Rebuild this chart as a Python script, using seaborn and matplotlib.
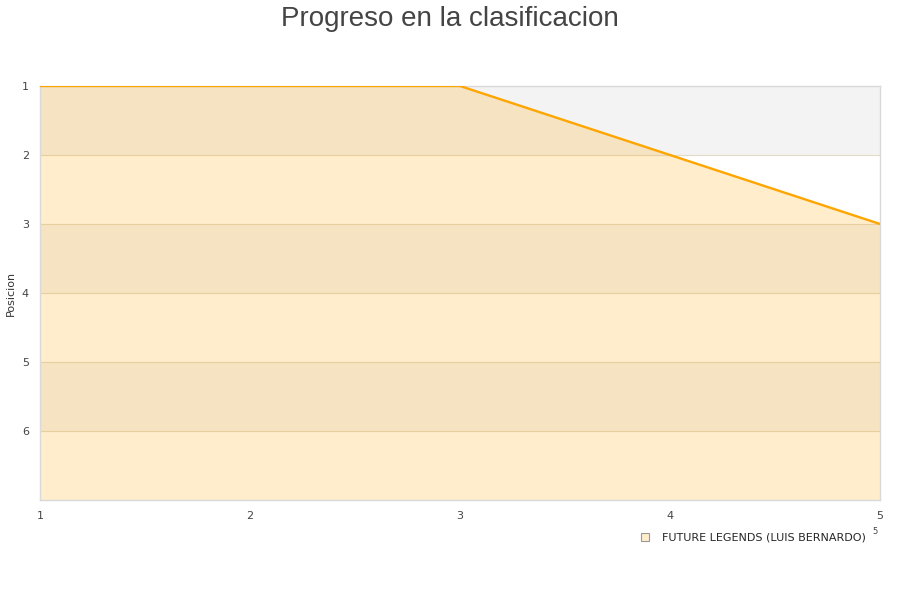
import pandas as pd
import numpy as np
import matplotlib.pyplot as plt
import seaborn as sns
from matplotlib.lines import Line2D

# ── Data ──────────────────────────────────────────────
jornadas = [1, 2, 3, 4, 5]
posiciones = [1, 1, 1, 2, 3]
equipo = 'FUTURE LEGENDS (LUIS BERNARDO)'
y_ticks = [1, 2, 3, 4, 5, 6]
y_max = 7

df = pd.DataFrame({'jornada': jornadas, 'posicion': posiciones})

sns.set_style('white')
plt.rcParams['font.family'] = ['DejaVu Sans']

fig = plt.figure(figsize=(9, 6), dpi=100)
ax = fig.add_axes([40/900, 1 - 500/600, 840/900, 414/600])

# alternating bands
for i, lo in enumerate(range(1, y_max)):
    if i % 2 == 0:
        ax.axhspan(lo, lo + 1, color='#f3f3f3', zorder=0, lw=0)
for t in y_ticks[1:]:
    ax.axhline(t, color='#e3dac8', lw=0.8, zorder=1)

# area under the line
ax.fill_between(df['jornada'], df['posicion'], y_max, color='#FFA500',
                alpha=0.2, lw=0, zorder=2)
sns.lineplot(data=df, x='jornada', y='posicion', ax=ax, color='#FFA500',
             lw=1.7, zorder=3)

ax.set_xlim(1, 5)
ax.set_ylim(y_max, 1)
ax.set_xticks(jornadas)
ax.set_yticks(y_ticks)
ax.tick_params(length=0, labelsize=8, colors='#444444', pad=8)
ax.set_xlabel('')
ax.set_ylabel('Posicion', fontsize=8, color='#333333')
for s in ax.spines.values():
    s.set_color('#d9d9d9')
    s.set_linewidth(1)

fig.suptitle('Progreso en la clasificacion', fontsize=20, color='#444444',
             y=0.99, family=['Liberation Sans'])

handle = Line2D([], [], marker='s', ls='', markersize=6,
                markerfacecolor='#ffedcc', markeredgecolor='#999999', markeredgewidth=0.8)
fig.legend([handle], [equipo], loc='center right', bbox_to_anchor=(870/900, 1 - 538/600),
           frameon=False, fontsize=8, handletextpad=0.5, borderaxespad=0)
fig.text(875/900, 1 - 532/600, '5', fontsize=6, color='#444444', ha='center', va='center')

plt.savefig('out.png', dpi=100)
